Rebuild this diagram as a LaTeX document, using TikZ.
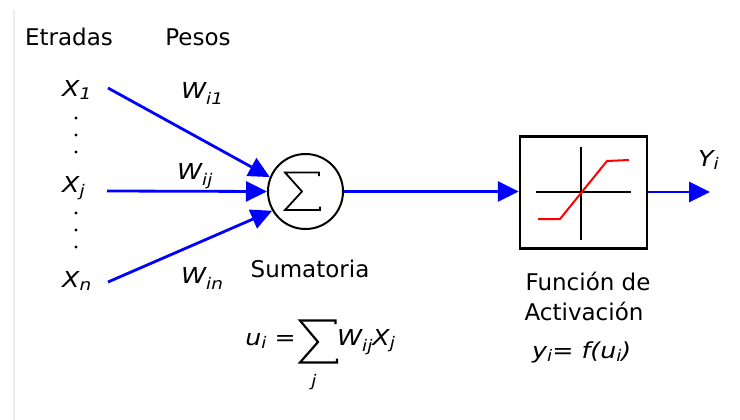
\documentclass[tikz,border=0pt]{standalone}
\usepackage{fontspec}
\setmainfont{DejaVu Sans}
\newfontfamily\varfam[FakeStretch=1.15]{DejaVu Sans}
\usetikzlibrary{arrows.meta}
\definecolor{myblue}{RGB}{0,0,255}
\definecolor{faint}{RGB}{238,238,230}
\newcommand\txtsz{\fontsize{23}{28}\selectfont}
\newcommand\varsz{\varfam\fontsize{22}{26}\selectfont\itshape}
\newcommand\sbx[1]{\raisebox{-3pt}{\varfam\fontsize{16}{16}\selectfont\itshape #1}}
\newcommand\sbw[1]{\raisebox{-6pt}{\varfam\fontsize{16}{16}\selectfont\itshape #1}}
\begin{document}
\begin{tikzpicture}[x=1pt,y=-1pt,
 lbl/.style={inner sep=0pt, font=\txtsz, anchor=base},
 var/.style={inner sep=0pt, font=\varsz, anchor=base west},
 conn/.style={draw=myblue, line width=2.8pt, -{Triangle[length=21pt,width=20pt]}},
]
\useasboundingbox (0,0) rectangle (740,420);
\draw[faint, line width=2pt] (14,10) -- (14,420);
% headers
\node[lbl] (etr) at (69,46) {Etradas};
\node[lbl] (pes) at (198,46) {Pesos};
% inputs
\node[var] (x1) at (62,97) {X\sbx{1}};
\node[var] (xj) at (62,193) {X\sbx{j}};
\node[var] (xn) at (62,287) {X\sbx{n}};
\foreach \yy in {118,135,152,213,230,247}
  \fill (76,\yy) circle (1.7pt);
% weights
\node[var] (w1) at (181,99) {W\sbw{i1}};
\node[var] (wj) at (177,179) {W\sbw{ij}};
\node[var] (wn) at (181,283) {W\sbw{in}};
% summation node
\node[draw, circle, line width=2pt, minimum size=75pt, inner sep=0pt] (sum) at (305.5,191.5) {};
\draw[line width=1.8pt, line join=miter] (319,176) -- (319,172.5) -- (285,172.5) -- (302,191.5) -- (285,210) -- (320,210) -- (320,206.5);
\node[lbl] (sumt) at (310,277) {Sumatoria};
% input arrows
\coordinate (s1) at (108,88);
\coordinate (sj) at (107,191);
\coordinate (sn) at (108,282);
\draw[conn] (s1) -- (sum.158);
\draw[conn] (sj) -- (sum.west);
\draw[conn] (sn) -- (sum.210);
% activation block
\node[draw, line width=2.5pt, minimum width=127pt, minimum height=112pt, inner sep=0pt] (act) at (583.5,192.5) {};
\draw[line width=2pt] (536,192) -- (631,192);
\draw[line width=2pt] (581,147) -- (581,240);
\draw[red, line width=2pt, line join=round] (538,219) -- (560,219) -- (607,161) -- (629,160);
\draw[conn] (sum.east) -- (sum.east -| act.west);
\coordinate (out) at (710,192);
\draw[conn] (act.east |- out) -- (out);
\node[var] (yo) at (698,166) {Y\sbx{i}};
% labels
\node[lbl] (fun) at (588,290) {Función de};
\node[lbl] (actt) at (584,320) {Activación};
\node[var] (yf) at (532,358) {y\sbx{i}= f(u\sbx{i})};
% formula
\node[var, anchor=base east] (ui) at (296,345) {u\sbx{i} =};
\draw[line width=2.2pt, line join=miter] (335.5,324) -- (335.5,320.5) -- (300,320.5) -- (318,342) -- (300,362.5) -- (337,362.5) -- (337,358.5);
\node[var] (wx) at (337,345) {W\sbw{ij}X\sbx{j}};
\node[var, anchor=base, font=\varfam\fontsize{16}{16}\selectfont\itshape] (jj) at (314,386) {j};
\end{tikzpicture}
\end{document}
